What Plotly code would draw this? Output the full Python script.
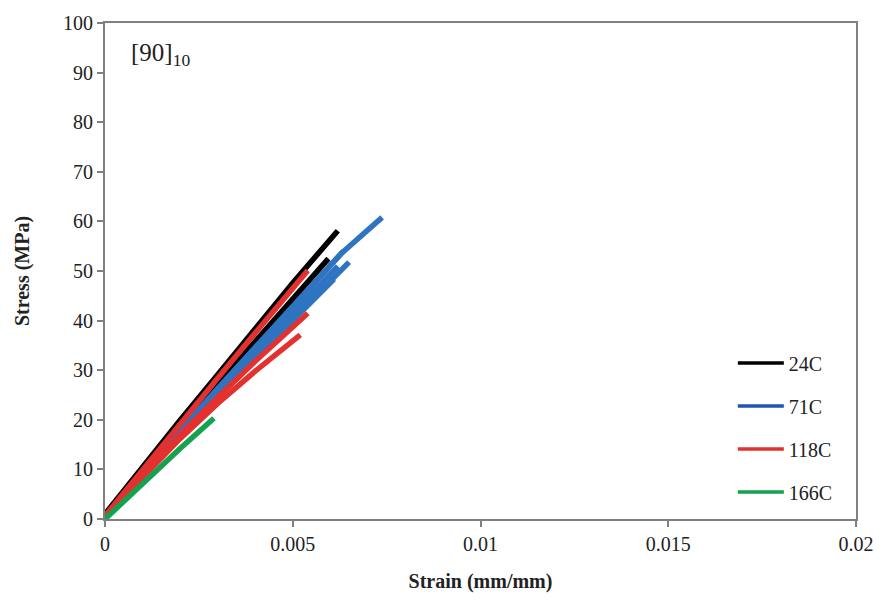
import plotly.graph_objects as go

# Stress-strain curves for [90]10 laminates at four test temperatures
black_1_strain = [0.0, 0.001, 0.002, 0.003, 0.004, 0.005, 0.0062]
black_1_stress = [1.0, 10.6, 19.9, 29.1, 38.3, 47.6, 58.1]
black_2_strain = [0.0, 0.001, 0.002, 0.003, 0.004, 0.005, 0.00595]
black_2_stress = [0.8, 9.9, 18.6, 27.2, 35.8, 44.4, 52.5]

blue_1_strain = [0.0, 0.001, 0.002, 0.003, 0.004, 0.005, 0.0063, 0.00738]
blue_1_stress = [0.5, 9.3, 17.8, 26.1, 34.4, 42.6, 53.6, 60.8]
blue_2_strain = [0.0, 0.001, 0.002, 0.003, 0.004, 0.005, 0.00635]
blue_2_stress = [0.5, 9.4, 17.9, 26.3, 34.6, 42.8, 54.0]
blue_3_strain = [0.0, 0.001, 0.002, 0.003, 0.004, 0.005, 0.0065]
blue_3_stress = [0.5, 9.0, 17.1, 25.0, 32.8, 40.3, 51.8]
blue_4_strain = [0.0, 0.001, 0.002, 0.003, 0.004, 0.005, 0.0062]
blue_4_stress = [0.5, 9.1, 17.4, 25.6, 33.6, 41.5, 51.0]
blue_5_strain = [0.0, 0.001, 0.002, 0.003, 0.004, 0.005, 0.0061]
blue_5_stress = [0.5, 8.9, 17.0, 24.8, 32.5, 40.0, 48.4]

red_1_strain = [0.0, 0.001, 0.002, 0.003, 0.004, 0.0054]
red_1_stress = [0.6, 10.0, 19.3, 28.4, 37.5, 50.1]
red_2_strain = [0.0, 0.001, 0.002, 0.003, 0.004, 0.0054]
red_2_stress = [0.6, 9.0, 17.0, 24.5, 31.8, 41.5]
red_3_strain = [0.0, 0.001, 0.002, 0.003, 0.004, 0.0052]
red_3_stress = [0.6, 8.6, 16.2, 23.3, 29.8, 37.1]

green_strain = [0.0, 0.001, 0.002, 0.0029]
green_stress = [0.0, 7.2, 14.2, 20.3]

series = [
    ("24C", "#000000", [(black_1_strain, black_1_stress), (black_2_strain, black_2_stress)]),
    ("71C", "#2f74c0", [(blue_1_strain, blue_1_stress), (blue_2_strain, blue_2_stress),
                        (blue_3_strain, blue_3_stress), (blue_4_strain, blue_4_stress),
                        (blue_5_strain, blue_5_stress)]),
    ("118C", "#e3312f", [(red_1_strain, red_1_stress), (red_2_strain, red_2_stress),
                         (red_3_strain, red_3_stress)]),
    ("166C", "#14a251", [(green_strain, green_stress)]),
]
legend_colors = {"24C": "#000000", "71C": "#1f55b5", "118C": "#e3312f", "166C": "#14a251"}

x_ticks = [0, 0.005, 0.01, 0.015, 0.02]
x_tick_text = ["0", "0.005", "0.01", "0.015", "0.02"]
y_ticks = list(range(0, 101, 10))

fig = go.Figure()
for name, color, curves in series:
    for xs, ys in curves:
        fig.add_trace(go.Scatter(x=xs, y=ys, mode="lines", showlegend=False,
                                 line=dict(color=color, width=5.5), hoverinfo="skip"))

# Legend entries with thinner sample lines
for name, color, _ in series:
    fig.add_trace(go.Scatter(x=[None], y=[None], mode="lines", name=name,
                             legendgroup=name,
                             line=dict(color=legend_colors[name], width=3.5)))

serif = "Liberation Serif"
axis_common = dict(showline=True, mirror=True, linecolor="#808080", linewidth=2,
                   ticks="outside", ticklen=6, tickwidth=1.5, tickcolor="#808080",
                   showgrid=False, zeroline=False,
                   tickfont=dict(family=serif, size=20, color="#222222"))

fig.update_layout(
    width=890, height=601,
    margin=dict(l=105, r=34, t=19, b=82),
    paper_bgcolor="white", plot_bgcolor="white",
    xaxis=dict(range=[0, 0.02], tickvals=x_ticks, ticktext=x_tick_text,
               title=dict(text="<b>Strain (mm/mm)</b>", standoff=20,
                          font=dict(family=serif, size=20, color="#222222")),
               **axis_common),
    yaxis=dict(range=[0, 100], tickvals=y_ticks,
               title=dict(text="<b>Stress (MPa)</b>", standoff=28,
                          font=dict(family=serif, size=20, color="#222222")),
               **axis_common),
    legend=dict(x=0.836, y=0.354, xanchor="left", yanchor="top",
                font=dict(family=serif, size=20, color="#222222"),
                tracegroupgap=14, bgcolor="rgba(0,0,0,0)", itemwidth=46),
    annotations=[dict(text="[90]<sub>10</sub>", x=0.032, y=0.972, xref="paper",
                      yref="paper", xanchor="left", yanchor="top", showarrow=False,
                      font=dict(family=serif, size=25, color="#222222"))],
)

fig.write_html("out.html")
